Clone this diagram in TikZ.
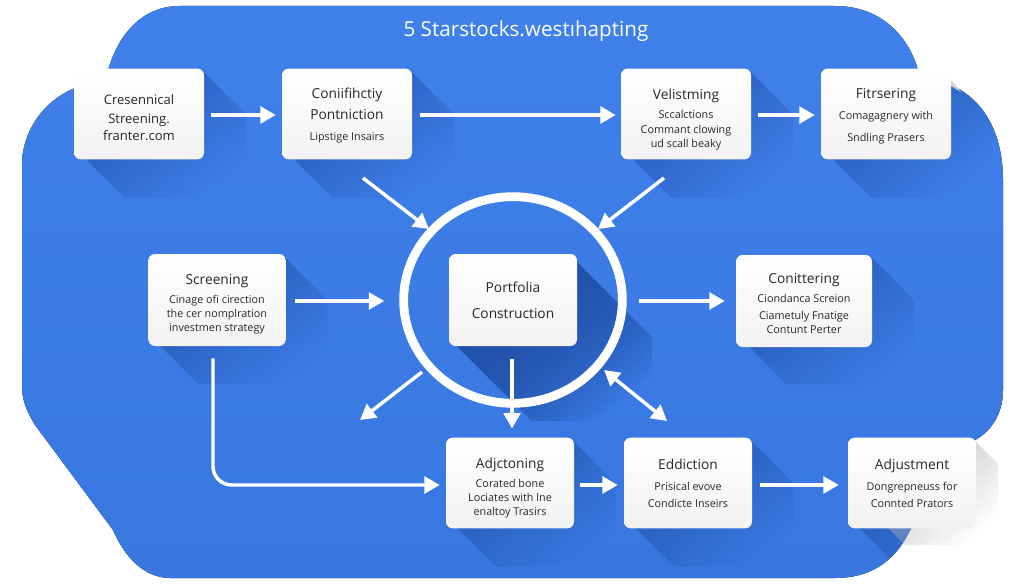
\documentclass[tikz,border=0pt]{standalone}
\usepackage{fontspec}
\setmainfont{Open Sans}
\usetikzlibrary{arrows.meta, positioning, calc, fadings, shapes.geometric}

\definecolor{panelblue}{HTML}{4080EA}
\definecolor{paneldeep}{HTML}{3877E0}
\definecolor{shadowblue}{HTML}{1F4FA8}
\definecolor{inkgrey}{HTML}{26282C}

\tikzfading[name=shadowfade, left color=transparent!20, middle color=transparent!68, right color=transparent!100]

\newcommand{\panelpath}{(180,6) -- (835,6) .. controls (880,6) and (908,35) .. (918,70)
    -- (951,85) .. controls (985,100) and (1003,135) .. (1003,180)
    -- (1003,390) .. controls (1003,415) and (990,432) .. (975,440)
    -- (910,530) .. controls (895,562) and (870,578) .. (835,578)
    -- (170,578) .. controls (145,578) and (125,558) .. (113,530)
    -- (35,425) .. controls (26,410) and (22,400) .. (22,385)
    -- (22,165) .. controls (22,130) and (45,100) .. (75,88)
    -- (108,70) .. controls (120,30) and (145,6) .. (180,6) -- cycle}
\newcommand{\cardhead}[2][8]{\rule{0pt}{#1pt}{\fontsize{10.3}{13}\selectfont #2}}

\begin{document}
\begin{tikzpicture}[
  x=0.75pt, y=-0.75pt,
  card/.style = {top color=white, bottom color=black!5, rounded corners=5pt, inner sep=0pt, align=center, text=inkgrey,
    font=\fontsize{8.1}{10.6}\selectfont},
  arrow/.style = {white, line width=2.6pt, -{Triangle[width=12.5pt,length=11.5pt]}}
]

  \useasboundingbox (0,0) rectangle (1024,585);

  % blue panel
  \fill[top color=panelblue, bottom color=paneldeep] \panelpath;

  % title
  \node[text=white, font=\fontsize{15.5}{18}\selectfont] (title) at (526,31) {5 Starstocks.westıhapting};

  % shadows of the cards
  \begin{scope}
    \clip \panelpath;
    \foreach \cx/\cy/\cw/\ch in {139/114/130/91, 347/114/130/91, 686/114/130/91, 886/114/130/91,
        217/300/137/92, 804/300/136/92, 510/483/128/91, 688/483/128/91, 912/483/128/91}
      \fill[shadowblue, path fading=shadowfade, fading angle=-45]
        ({\cx+\cw/2},{\cy-\ch/2+4}) -- ++(42,42) -- ++(0,{\ch-8}) -- ++({-\cw+8},0) -- ++(-42,-42) -- cycle;
    \foreach \rep in {1,2,3}
      \fill[shadowblue, path fading=shadowfade, fading angle=-45]
        (577,262) -- ++(75,75) -- ++(0,84) -- ++(-120,0) -- ++(-75,-75) -- cycle;
  \end{scope}
  % shadows outside the panel
  \fill[black!18] (951,80) -- (961,92) -- (951,86) -- cycle;
  \fill[black!30, path fading=shadowfade, fading angle=-45]
    (976,442) -- (998,464) -- (998,545) -- (905,545) -- (888,528) -- cycle;

  % ring
  \node[ellipse, draw=white, line width=6.6pt, minimum width=164pt, minimum height=155pt, inner sep=0pt] (ring) at (513,300) {};

  % top row
  \node[card, minimum width=97.5pt, minimum height=68pt, font=\fontsize{9.8}{13.2}\selectfont] (crescent) at (139,114) {\rule{0pt}{13pt}Cresennical\\[1pt]Streening.\\franter.com};
  \node[card, minimum width=97.5pt, minimum height=68pt] (conflict) at (347,114) {\cardhead[10]{Coniifihctiy}\\[5pt]\cardhead{Pontniction}\\[5pt]Lipstige Insairs};
  \node[card, minimum width=97.5pt, minimum height=68pt] (velist) at (686,114) {\cardhead[16]{Velistming}\\[4pt]Sccalctions\\Commant clowing\\ud scall beaky};
  \node[card, minimum width=97.5pt, minimum height=68pt] (filter) at (886,114) {\cardhead[11]{Fitrsering}\\[5pt]Comagagnery with\\[6pt]Sndling Prasers};

  % middle row
  \node[card, minimum width=103pt, minimum height=69pt] (screen) at (217,300) {\cardhead[14]{Screening}\\[3.5pt]Cinage ofi cirection\\the cer nomplration\\investmen strategy};
  \node[card, minimum width=96pt, minimum height=69pt] (port) at (513,300) {\cardhead{Portfolia}\\[9pt]\cardhead{Construction}};
  \node[card, minimum width=102pt, minimum height=69pt] (conit) at (804,301) {\cardhead[11]{Conittering}\\[3.5pt]Ciondanca Screion\\[2pt]Ciametuly Fnatige\\Contunt Perter};

  % bottom row
  \node[card, minimum width=96pt, minimum height=68pt] (adjc) at (510,483) {\cardhead[15.5]{Adjctoning}\\[3.5pt]Corated bone\\Lociates with lne\\enaltoy Trasirs};
  \node[card, minimum width=96pt, minimum height=68pt] (eddict) at (688,483) {\cardhead{Eddiction}\\[5pt]Prisical evove\\[2pt]Condicte Inseirs};
  \node[card, minimum width=96pt, minimum height=68pt] (adjust) at (912,483) {\cardhead{Adjustment}\\[5pt]Dongrepneuss for\\[2pt]Connted Prators};

  % free ends of the arrows round the ring
  \coordinate (nwstart) at (363,178);
  \coordinate (nwend) at (429,229);
  \coordinate (nestart) at (664,178);
  \coordinate (neend) at (598,229);
  \coordinate (swstart) at (422,372);
  \coordinate (swend) at (360,420);
  \coordinate (sestart) at (604,370);
  \coordinate (seend) at (667,421);

  % connectors
  \draw[arrow] ($(crescent.east)+(7,1)$) -- ($(conflict.west)+(-6,1)$);
  \draw[arrow] ($(conflict.east)+(8,1)$) -- ($(velist.west)+(-5,1)$);
  \draw[arrow] ($(velist.east)+(7,1)$) -- ($(filter.west)+(-6,1)$);
  \draw[arrow] (nwstart) -- (nwend);
  \draw[arrow] (nestart) -- (neend);
  \draw[arrow] ($(screen.east)+(9,1)$) -- ($(ring.west)+(-15,1)$);
  \draw[arrow] ($(ring.east)+(12,1)$) -- ($(conit.west)+(-11,0)$);
  \draw[arrow] (swstart) -- (swend);
  \draw[arrow] ($(port.south)+(-1,13)$) -- ($(adjc.north)+(2,-9)$);
  \draw[arrow, {Triangle[width=12.5pt,length=11.5pt]}-{Triangle[width=12.5pt,length=11.5pt]}] (sestart) -- (seend);
  \draw[arrow, rounded corners=14pt] ($(screen.south)+(-4,12)$) |- ($(adjc.west)+(-6,2)$);
  \draw[arrow] ($(adjc.east)+(6,2)$) -- ($(eddict.west)+(-6,2)$);
  \draw[arrow] ($(eddict.east)+(8,2)$) -- ($(adjust.west)+(-9,2)$);

\end{tikzpicture}
\end{document}
